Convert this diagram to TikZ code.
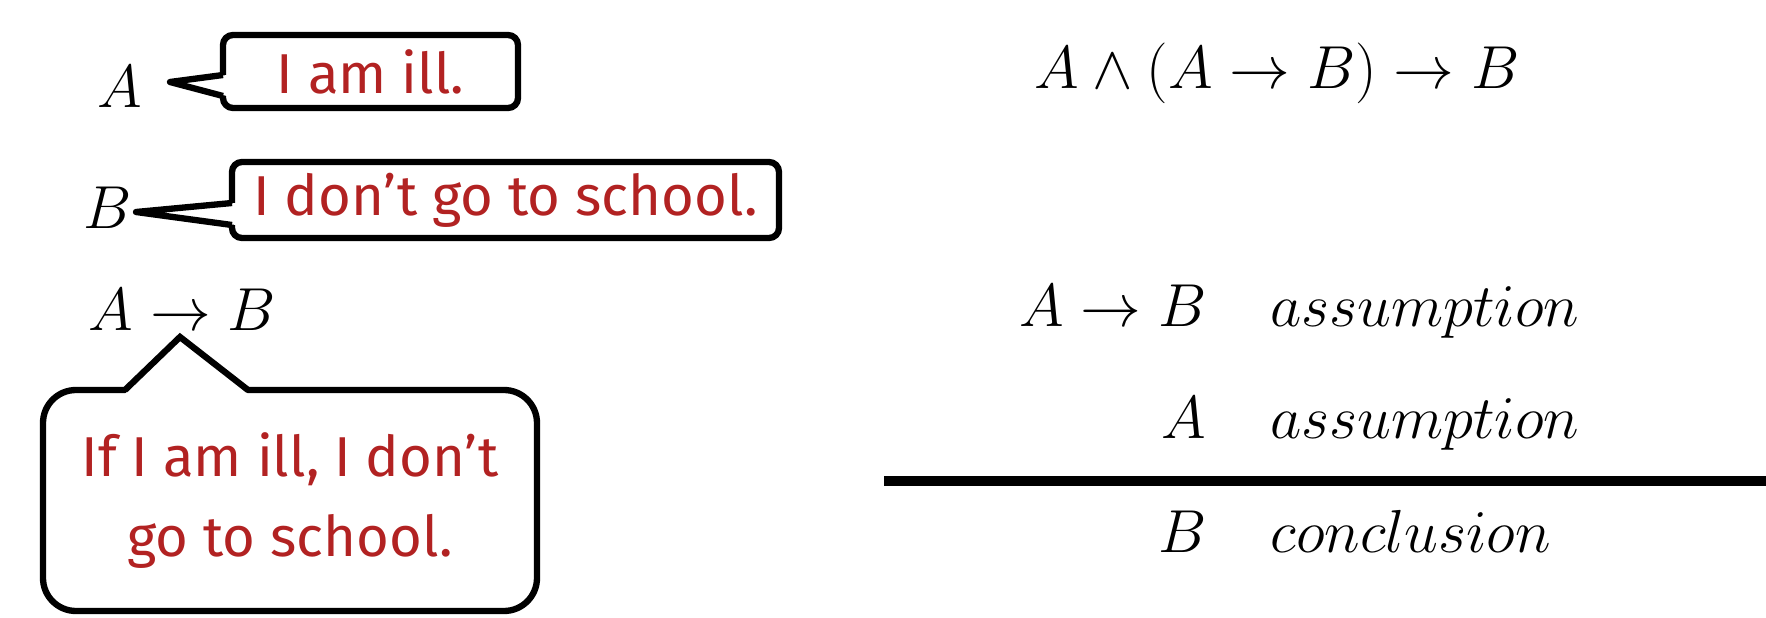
\documentclass[tikz,border=0pt]{standalone}
\usepackage{fontspec}
\newfontfamily\handfont{Fira Sans}
\usetikzlibrary{calc}
\definecolor{inkred}{RGB}{178,34,34}
\tikzset{
  bubble/.style={draw,line width=1.8pt,fill=white,text=inkred,inner sep=0pt,outer sep=0pt,
    align=center,font=\handfont\fontsize{16}{23}\selectfont},
  formula/.style={inner sep=0pt,font=\LARGE},
  pointer/.style={line width=1.8pt,line join=round},
}

\begin{document}
\begin{tikzpicture}
  \useasboundingbox (0,0) rectangle (17.66,-6.18);
  % left: the three statements
  \node[formula,anchor=base west] (a) at (0.97,-1.08) {$A$};
  \node[formula,anchor=base west] (b) at (0.83,-2.29) {$B$};
  \node[formula,anchor=base west] (ab) at (0.88,-3.30) {$A\to B$};
  % callouts
  \coordinate (tipA) at (1.70,-0.82);
  \node[bubble,minimum width=2.95cm,minimum height=0.73cm,rounded corners=0.1cm] (ill) at (3.705,-0.715) {I am ill.};
  \fill[white] ($(ill.west)+(0.04,-0.035)$) -- (tipA) -- ($(ill.west)+(0.04,-0.245)$) -- cycle;
  \draw[pointer] ($(ill.west)+(0,-0.035)$) -- (tipA) -- ($(ill.west)+(0,-0.245)$);
  \coordinate (tipB) at (1.36,-2.12);
  \node[bubble,minimum width=5.47cm,minimum height=0.76cm,rounded corners=0.1cm] (school) at (5.055,-2.00) {I don’t go to school.};
  \fill[white] ($(school.west)+(0.04,-0.03)$) -- (tipB) -- ($(school.west)+(0.04,-0.25)$) -- cycle;
  \draw[pointer] ($(school.west)+(0,-0.03)$) -- (tipB) -- ($(school.west)+(0,-0.25)$);
  \coordinate (tipAB) at (1.80,-3.37);
  \node[bubble,minimum width=4.94cm,minimum height=2.21cm,rounded corners=0.33cm] (rule) at (2.90,-5.005) {If I am ill, I don’t\\go to school.};
  \fill[white] ($(rule.north)+(-1.65,-0.04)$) -- (tipAB) -- ($(rule.north)+(-0.42,-0.04)$) -- cycle;
  \draw[pointer,line join=miter] ($(rule.north)+(-1.65,0)$) -- (tipAB) -- ($(rule.north)+(-0.42,0)$);
  % right: modus ponens
  \node[formula,anchor=base west] (goal) at (10.34,-0.89) {$A\wedge(A\to B)\to B$};
  \node[formula,anchor=base east] (p1) at (12.07,-3.27) {$A\to B$};
  \node[formula,anchor=base west] (p1r) at (12.70,-3.27) {$assumption$};
  \node[formula,anchor=base east] (p2) at (12.07,-4.39) {$A$};
  \node[formula,anchor=base west] (p2r) at (12.70,-4.39) {$assumption$};
  \node[formula,anchor=base east] (c) at (12.07,-5.52) {$B$};
  \node[formula,anchor=base west] (cr) at (12.70,-5.52) {$conclusion$};
  \coordinate (barL) at (8.84,-4.81);
  \coordinate (barR) at (17.66,-4.81);
  \draw[line width=2.6pt] (barL) -- (barR);
\end{tikzpicture}
\end{document}
